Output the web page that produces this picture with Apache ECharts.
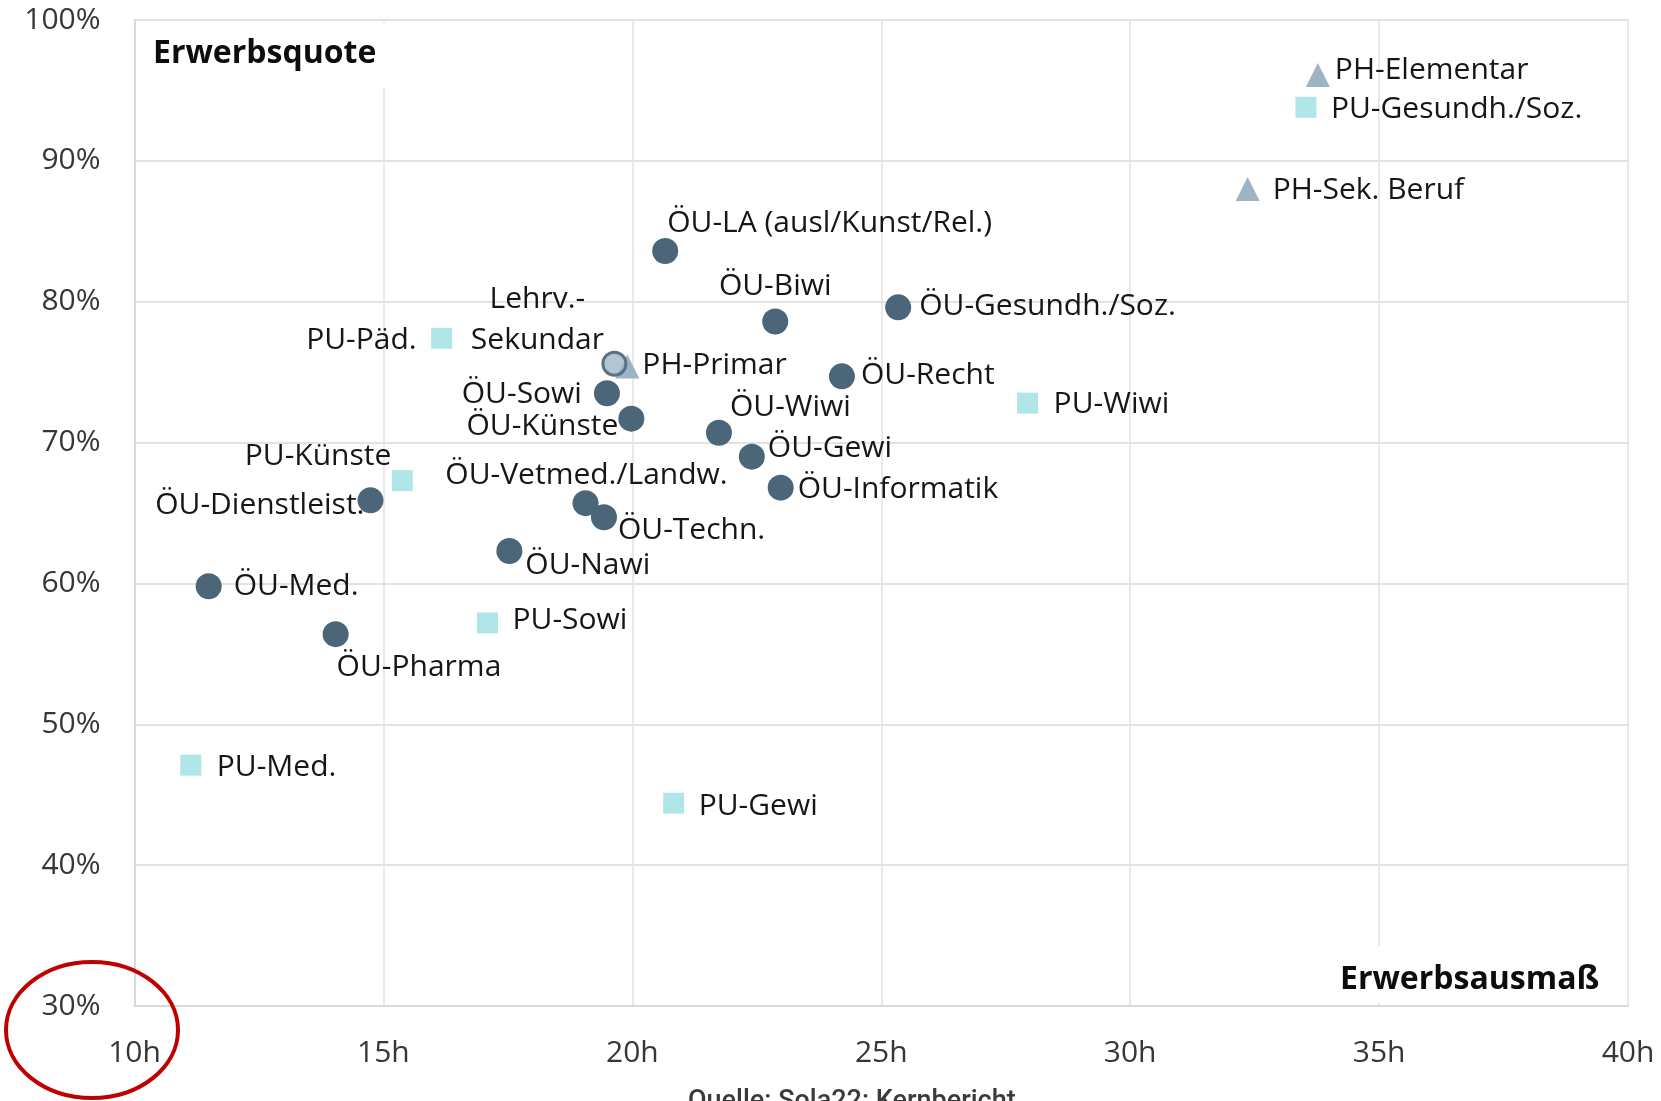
<!DOCTYPE html>
<html>
<head>
<meta charset="utf-8">
<script src="https://cdn.jsdelivr.net/npm/echarts@6/dist/echarts.min.js"></script>
<style>
  html, body { margin: 0; padding: 0; background: #fff; }
  #chart { width: 1661px; height: 1101px; }
</style>
</head>
<body>
<div id="chart"></div>
<script>
// Achsen
const xTicks = [10, 15, 20, 25, 30, 35, 40];   // Stunden
const yTicks = [30, 40, 50, 60, 70, 80, 90, 100]; // Prozent

// Öffentliche Universitäten (Kreise)
const ouNames = ['ÖU-LA (ausl/Kunst/Rel.)', 'ÖU-Biwi', 'ÖU-Gesundh./Soz.', 'ÖU-Recht', 'ÖU-Sowi',
    'ÖU-Künste', 'ÖU-Wiwi', 'ÖU-Gewi', 'ÖU-Informatik', 'ÖU-Vetmed./Landw.', 'ÖU-Techn.',
    'ÖU-Nawi', 'ÖU-Dienstleist.', 'ÖU-Med.', 'ÖU-Pharma'];
const ouHours = [20.66, 22.87, 25.34, 24.21, 19.49, 19.98, 21.74, 22.40, 22.98, 19.06, 19.43, 17.53, 14.74, 11.49, 14.04];
const ouRate = [83.6, 78.6, 79.6, 74.7, 73.5, 71.7, 70.7, 69.0, 66.8, 65.7, 64.7, 62.3, 65.9, 59.8, 56.4];

// Privatuniversitäten (Quadrate)
const puNames = ['PU-Gesundh./Soz.', 'PU-Päd.', 'PU-Wiwi', 'PU-Künste', 'PU-Sowi', 'PU-Med.', 'PU-Gewi'];
const puHours = [33.53, 16.17, 27.94, 15.38, 17.09, 11.13, 20.83];
const puRate = [93.8, 77.4, 72.8, 67.3, 57.2, 47.1, 44.4];

// Pädagogische Hochschulen (Dreiecke)
const phNames = ['PH-Elementar', 'PH-Sek. Beruf', 'PH-Primar'];
const phHours = [33.77, 32.36, 19.90];
const phRate = [96.1, 88.0, 75.4];

// Lehrverbund Sekundar
const lvNames = ['Lehrv.-\nSekundar'];
const lvHours = [19.64];
const lvRate = [75.6];

// Beschriftungsposition je Punkt: [dx, dy, align]
const labelPlace = {
    'ÖU-LA (ausl/Kunst/Rel.)': [2, -28, 'left'],
    'ÖU-Biwi': [0, -35, 'center'],
    'ÖU-Gesundh./Soz.': [21, -1, 'left'],
    'ÖU-Recht': [19, -1, 'left'],
    'ÖU-Sowi': [-25, 1, 'right'],
    'ÖU-Künste': [-13, 8, 'right'],
    'ÖU-Wiwi': [11, -25, 'left'],
    'ÖU-Gewi': [16, -8, 'left'],
    'ÖU-Informatik': [17, 2, 'left'],
    'ÖU-Vetmed./Landw.': [1, -28, 'center'],
    'ÖU-Techn.': [14, 13, 'left'],
    'ÖU-Nawi': [16, 14, 'left'],
    'ÖU-Dienstleist.': [-6, 5, 'right'],
    'ÖU-Med.': [25, 0, 'left'],
    'ÖU-Pharma': [1, 33, 'left'],
    'PU-Gesundh./Soz.': [25, 2, 'left'],
    'PU-Päd.': [-25, 2, 'right'],
    'PU-Wiwi': [26, 1, 'left'],
    'PU-Künste': [-11, -24, 'right'],
    'PU-Sowi': [25, -2, 'left'],
    'PU-Med.': [26, 2, 'left'],
    'PU-Gewi': [25, 3, 'left'],
    'PH-Elementar': [17, -4, 'left'],
    'PH-Sek. Beruf': [25, 1, 'left'],
    'PH-Primar': [15, -1, 'left'],
    'Lehrv.-\nSekundar': [-77, -44, 'center']
};

const FONT = '"Open Sans", "Noto Sans", sans-serif';

function buildData(names, xs, ys) {
    return names.map((n, i) => {
        const p = labelPlace[n] || [20, 0, 'left'];
        return {
            name: n,
            value: [xs[i], ys[i]],
            label: {
                position: ['50%', '50%'],
                offset: [p[0], p[1]],
                align: p[2],
                verticalAlign: 'middle'
            }
        };
    });
}

const labelStyle = {
    show: true,
    formatter: '{b}',
    fontFamily: FONT,
    fontSize: 30,
    lineHeight: 41,
    color: '#161616'
};

const chart = echarts.init(document.getElementById('chart'));

const option = {
    animation: false,
    backgroundColor: '#fff',
    grid: { left: 134.5, right: 33, top: 20, bottom: 95, containLabel: false },
    xAxis: {
        type: 'value',
        min: xTicks[0],
        max: xTicks[xTicks.length - 1],
        interval: 5,
        axisLine: { show: true, lineStyle: { color: '#d9d9d9', width: 2 } },
        axisTick: { show: false },
        axisLabel: {
            formatter: '{value}h', margin: 32,
            fontFamily: FONT, fontSize: 30, color: '#363636'
        },
        splitLine: { show: true, lineStyle: { color: '#e2e2e2', width: 1.5 } }
    },
    yAxis: {
        type: 'value',
        min: yTicks[0],
        max: yTicks[yTicks.length - 1],
        interval: 10,
        axisLine: { show: true, lineStyle: { color: '#d9d9d9', width: 2 } },
        axisTick: { show: false },
        axisLabel: {
            formatter: '{value}%', margin: 34,
            fontFamily: FONT, fontSize: 30, color: '#363636'
        },
        splitLine: { show: true, lineStyle: { color: '#e2e2e2', width: 2 } }
    },
    graphic: [
        { type: 'rect', z: 5, shape: { x: 137, y: 23, width: 262, height: 64 }, style: { fill: '#fff' } },
        {
            type: 'text', z: 6, left: 153, top: 38,
            style: { text: 'Erwerbsquote', font: 'bold 32px ' + FONT, fill: '#0d0d0d' }
        },
        { type: 'rect', z: 5, shape: { x: 1325, y: 946, width: 290, height: 57 }, style: { fill: '#fff' } },
        {
            type: 'text', z: 6, left: 1340, top: 964,
            style: { text: 'Erwerbsausmaß', font: 'bold 32px ' + FONT, fill: '#0d0d0d' }
        },
        {
            type: 'ellipse', z: 10,
            shape: { cx: 92, cy: 1030, rx: 86, ry: 68 },
            style: { fill: null, stroke: '#c00000', lineWidth: 4 }
        },
        {
            type: 'text', z: 6, left: 688, top: 1089,
            style: { text: 'Quelle: Sola22: Kernbericht', font: '500 27px Roboto, sans-serif', fill: '#3b3b3b' }
        }
    ],
    series: [
        {
            name: 'PH',
            type: 'scatter',
            symbol: 'triangle',
            symbolSize: 24,
            itemStyle: { color: '#9db4c5', opacity: 1 },
            label: labelStyle,
            data: buildData(phNames, phHours, phRate)
        },
        {
            name: 'Lehrv.',
            type: 'scatter',
            symbol: 'circle',
            symbolSize: 23,
            itemStyle: { color: 'rgba(160,182,198,0.8)', borderColor: '#587186', borderWidth: 3, opacity: 1 },
            label: labelStyle,
            data: buildData(lvNames, lvHours, lvRate)
        },
        {
            name: 'PU',
            type: 'scatter',
            symbol: 'rect',
            symbolSize: 21,
            itemStyle: { color: '#b1e6e9', opacity: 1 },
            label: labelStyle,
            data: buildData(puNames, puHours, puRate)
        },
        {
            name: 'ÖU',
            type: 'scatter',
            symbol: 'circle',
            symbolSize: 26,
            itemStyle: { color: '#4b6579', opacity: 1 },
            label: labelStyle,
            data: buildData(ouNames, ouHours, ouRate)
        }
    ]
};

chart.setOption(option);
</script>
</body>
</html>
